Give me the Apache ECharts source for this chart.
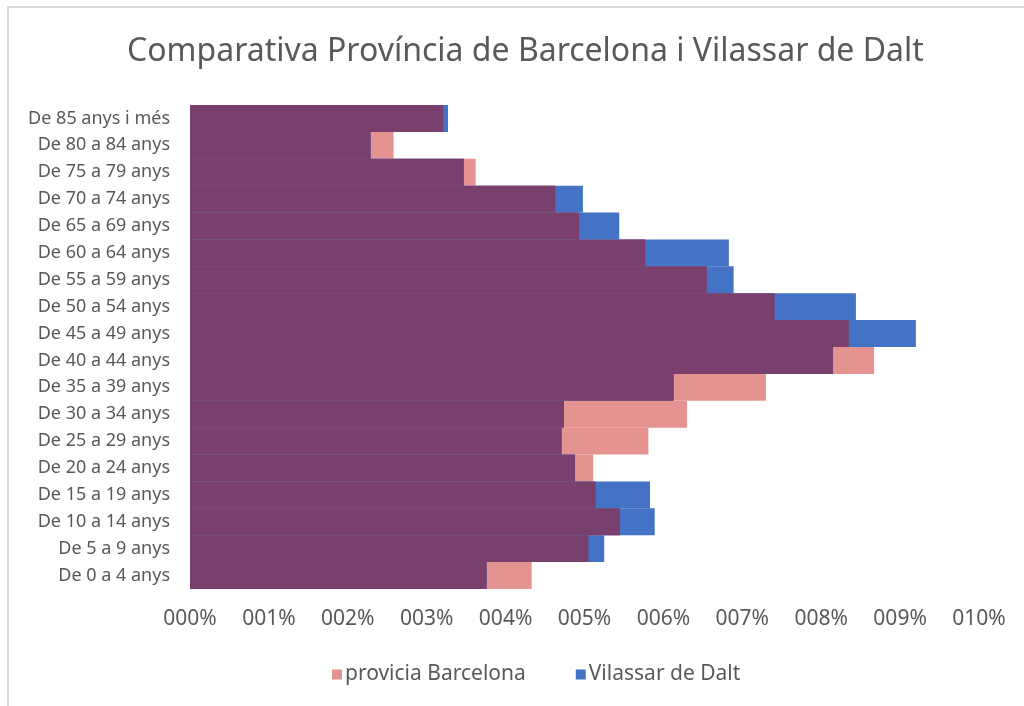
<!DOCTYPE html>
<html>
<head>
<meta charset="utf-8">
<script src="https://cdn.jsdelivr.net/npm/echarts@6/dist/echarts.min.js"></script>
<style>
  html, body { margin: 0; padding: 0; background: #fff; }
  #chart { width: 1024px; height: 706px; }
</style>
</head>
<body>
<div id="chart"></div>
<script>
// categories, top to bottom
const categories = [
  "De 85 anys i més", "De 80 a 84 anys", "De 75 a 79 anys", "De 70 a 74 anys",
  "De 65 a 69 anys", "De 60 a 64 anys", "De 55 a 59 anys", "De 50 a 54 anys",
  "De 45 a 49 anys", "De 40 a 44 anys", "De 35 a 39 anys", "De 30 a 34 anys",
  "De 25 a 29 anys", "De 20 a 24 anys", "De 15 a 19 anys", "De 10 a 14 anys",
  "De 5 a 9 anys", "De 0 a 4 anys"
];
// % de població per grup d'edat
const barcelona = [3.21, 2.58, 3.62, 4.63, 4.93, 5.77, 6.55, 7.41, 8.35, 8.67, 7.30, 6.30, 5.81, 5.11, 5.14, 5.45, 5.05, 4.33];
const vilassar  = [3.27, 2.29, 3.47, 4.98, 5.44, 6.83, 6.89, 8.44, 9.20, 8.15, 6.13, 4.74, 4.71, 4.88, 5.83, 5.89, 5.25, 3.76];
const xTicks = ["000%", "001%", "002%", "003%", "004%", "005%", "006%", "007%", "008%", "009%", "010%"];

// zona on les dues series se solapen (color lila)
const overlap = barcelona.map((v, i) => Math.min(v, vilassar[i]));

const font = "'Noto Sans', sans-serif";
const chart = echarts.init(document.getElementById("chart"));
chart.setOption({
  animation: false,
  title: {
    text: "Comparativa Província de Barcelona i Vilassar de Dalt",
    left: 122,
    top: 31,
    textStyle: { color: "#595959", fontSize: 32, fontWeight: "normal", fontFamily: font }
  },
  graphic: [{
    type: "rect",
    shape: { x: 8, y: 7, width: 1030, height: 720 },
    style: { fill: "none", stroke: "#d9d9d9", lineWidth: 2 },
    silent: true
  }],
  legend: {
    data: ["provicia Barcelona", "Vilassar de Dalt"],
    bottom: 16,
    left: 327,
    itemWidth: 10,
    itemHeight: 10,
    itemGap: 50,
    icon: "rect",
    textStyle: { color: "#595959", fontSize: 21, fontFamily: font, padding: [0, 0, 0, -2] }
  },
  grid: { left: 190, right: 45, top: 105, bottom: 117 },
  xAxis: {
    type: "value",
    min: 0,
    max: 10,
    interval: 1,
    axisLine: { show: false },
    axisTick: { show: false },
    splitLine: { show: false },
    axisLabel: {
      color: "#595959", fontSize: 21, fontFamily: font, margin: 20,
      formatter: v => xTicks[Math.round(v)]
    }
  },
  yAxis: {
    type: "category",
    inverse: true,
    data: categories,
    axisLine: { show: true, lineStyle: { color: "#d9d9d9", width: 1 } },
    axisTick: { show: false },
    axisLabel: { color: "#595959", fontSize: 18, fontFamily: font, margin: 20 }
  },
  series: [
    {
      name: "provicia Barcelona", type: "bar", data: barcelona,
      barGap: "-100%", barCategoryGap: 0,
      itemStyle: { color: "#E59391" }
    },
    {
      name: "Vilassar de Dalt", type: "bar", data: vilassar,
      barGap: "-100%", barCategoryGap: 0,
      itemStyle: { color: "#4472C4" }
    },
    {
      name: "overlap", type: "bar", data: overlap,
      barGap: "-100%", barCategoryGap: 0,
      itemStyle: { color: "#79406E" }
    }
  ]
});
</script>
</body>
</html>
